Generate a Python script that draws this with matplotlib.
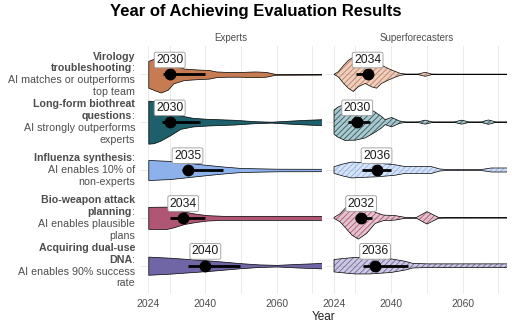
import numpy as np
import matplotlib.pyplot as plt
from matplotlib.colors import to_rgba

plt.rcParams['font.family'] = ['Liberation Sans', 'DejaVu Sans']
plt.rcParams['hatch.linewidth'] = 0.6

title = "Year of Achieving Evaluation Results"
groups = ["Experts", "Superforecasters"]
task_names = ["Virology\ntroubleshooting", "Long-form biothreat\nquestions",
              "Influenza synthesis", "Bio-weapon attack\nplanning",
              "Acquiring dual-use\nDNA"]
task_goals = ["AI matches or outperforms\ntop team", "AI strongly outperforms\nexperts",
              "AI enables 10% of\nnon-experts", "AI enables plausible\nplans",
              "AI enables 90% success\nrate"]
colors = ["#c77b52", "#1d5f6a", "#8db1ea", "#b05573", "#7166a5"]

# violin outlines: year and half width (row units)
exp_years = [
    [2024, 2026, 2027.5, 2029.5, 2031, 2034, 2038, 2041, 2043, 2046, 2050, 2054, 2057, 2059.5, 2073],
    [2024, 2025.5, 2027.3, 2030, 2033, 2036.5, 2040.5, 2048, 2054, 2058.5, 2064, 2068.5, 2073],
    [2024, 2030, 2035, 2040, 2045, 2050, 2060, 2073],
    [2024, 2029, 2031, 2034, 2037.5, 2040.5, 2045, 2073],
    [2024, 2030, 2036, 2042, 2050, 2055, 2060, 2066, 2073],
]
exp_width = [
    [0.28, 0.34, 0.38, 0.32, 0.19, 0.12, 0.10, 0.09, 0.06, 0.05, 0.05, 0.06, 0.05, 0.01, 0.006],
    [0.45, 0.44, 0.39, 0.28, 0.14, 0.09, 0.07, 0.05, 0.02, 0.01, 0.033, 0.05, 0.063],
    [0.21, 0.19, 0.15, 0.11, 0.073, 0.042, 0.027, 0.025],
    [0.23, 0.234, 0.20, 0.13, 0.084, 0.056, 0.042, 0.042],
    [0.19, 0.167, 0.136, 0.104, 0.052, 0.027, 0.017, 0.038, 0.058],
]
sf_years = [
    [2024, 2025.2, 2026.6, 2028, 2029.4, 2030.8, 2032.7, 2034.5, 2035.9, 2037.3, 2039.2,
     2041, 2042.5, 2044, 2047.5, 2049.5, 2051.3, 2053, 2073],
    [2024, 2025, 2027, 2030, 2032.7, 2035.5, 2037.3, 2038.3, 2040.1, 2042.3, 2044, 2047.5,
     2049.5, 2051.5, 2057.7, 2059.7, 2061.7, 2065.2, 2067.2, 2069.2, 2073],
    [2024, 2026.5, 2029, 2031, 2036.5, 2041, 2044, 2047.5, 2051.3, 2053.6, 2056, 2065, 2068, 2073],
    [2024, 2025.7, 2027, 2029, 2030.8, 2033.1, 2035.5, 2037.8, 2041, 2043.9, 2047.1, 2050,
     2053.2, 2055, 2073],
    [2024, 2027, 2030, 2034, 2040, 2044, 2046, 2050, 2073],
]
sf_width = [
    [0, 0.054, 0.18, 0.29, 0.36, 0.26, 0.19, 0.26, 0.29, 0.19, 0.12, 0.063, 0.021, 0.006,
     0.006, 0.042, 0.006, 0.004, 0.004],
    [0.25, 0.31, 0.38, 0.376, 0.33, 0.21, 0.12, 0.052, 0.098, 0.025, 0.006, 0.006, 0.042,
     0.006, 0.006, 0.042, 0.006, 0.006, 0.046, 0.006, 0.006],
    [0.07, 0.125, 0.167, 0.157, 0.14, 0.11, 0.07, 0.07, 0.07, 0.021, 0.008, 0.008, 0.042, 0.042],
    [0.01, 0.084, 0.19, 0.36, 0.445, 0.326, 0.117, 0.058, 0.048, 0.01, 0.01, 0.13, 0.01,
     0.006, 0.006],
    [0.13, 0.153, 0.173, 0.173, 0.142, 0.09, 0.048, 0.038, 0.038],
]

# medians and the thick interval lines
exp_median = [2030, 2030, 2035, 2033.8, 2040]
exp_lo = [2028.2, 2027.8, 2033.5, 2030.1, 2035.2]
exp_hi = [2040, 2038.5, 2045, 2040, 2049.7]
exp_label = [2030, 2030, 2035, 2034, 2040]
sf_median = [2033.4, 2030.5, 2035.9, 2031.6, 2035.5]
sf_lo = [2030.1, 2028, 2031.9, 2030, 2032.2]
sf_hi = [2034.8, 2034, 2040, 2034.5, 2044.8]
sf_label = [2034, 2030, 2036, 2032, 2036]

years = [exp_years, sf_years]
widths = [exp_width, sf_width]
medians = [exp_median, sf_median]
los = [exp_lo, sf_lo]
his = [exp_hi, sf_hi]
labels = [exp_label, sf_label]

grey = "#4d4d4d"
fig = plt.figure(figsize=(5.12, 3.31), dpi=100)
axes = [fig.add_axes([0.2736, 0.1106, 0.3525, 0.7516]),
        fig.add_axes([0.6363, 0.1106, 0.3533, 0.7516])]

for k, ax in enumerate(axes):
    ax.set_xlim(2021.7, 2072.3)
    ax.set_ylim(4.6, -0.6)
    for g in [2024, 2030, 2040, 2050, 2060, 2070]:
        ax.axvline(g, color="#ebebeb", lw=0.7, zorder=0)
    for i in range(5):
        ax.axhline(i, color="#ebebeb", lw=0.7, zorder=0)
        yr = np.array(years[k][i])
        w = np.array(widths[k][i])
        if k == 0:
            ax.fill_between(yr, i - w, i + w, facecolor=colors[i], edgecolor="black",
                            lw=0.5, zorder=2)
        else:
            ax.fill_between(yr, i - w, i + w, facecolor=to_rgba(colors[i], 0.35),
                            edgecolor=colors[i], hatch="//////", lw=0, zorder=2)
            ax.fill_between(yr, i - w, i + w, facecolor="none", edgecolor="black",
                            lw=0.5, zorder=3)
        ax.plot([los[k][i], his[k][i]], [i, i], color="black", lw=2,
                solid_capstyle="butt", zorder=4)
        ax.plot(medians[k][i], i, "o", color="black", ms=7.5, zorder=5)
        ax.annotate(str(labels[k][i]), (medians[k][i], i), xytext=(0, 10.3),
                    textcoords="offset points", ha="center", va="center",
                    fontsize=8.7, color="#1a1a1a", zorder=6,
                    bbox=dict(boxstyle="round,pad=0.15", fc="white", ec="#999999", lw=0.6))
    for s in ax.spines.values():
        s.set_visible(False)
    ax.set_xticks([2024, 2040, 2060])
    ax.set_yticks([])
    ax.tick_params(axis="x", length=0, pad=3, labelsize=7.5, labelcolor=grey)
    ax.set_title(groups[k], fontsize=7, color=grey, pad=3)

# category labels: bold task name with colon, then the goal in normal weight
ax0 = axes[0]
step = 8.5
for i in range(5):
    lines = []
    name_lines = task_names[i].split("\n")
    for j, nl in enumerate(name_lines):
        if j == len(name_lines) - 1:
            lines.append([(nl, "bold"), (":", "normal")])
        else:
            lines.append([(nl, "bold")])
    for gl in task_goals[i].split("\n"):
        lines.append([(gl, "normal")])
    n = len(lines)
    for j, segs in enumerate(lines):
        off = ((n - 1) / 2 - j) * step
        last = ax0.annotate(segs[-1][0], (0, i), xycoords=ax0.get_yaxis_transform(),
                            xytext=(-3.6, off), textcoords="offset points",
                            ha="right", va="center", fontsize=7.7, color=grey,
                            fontweight=segs[-1][1], annotation_clip=False)
        for txt, wt in reversed(segs[:-1]):
            last = ax0.annotate(txt, (0, 0.5), xycoords=last, ha="right", va="center",
                                fontsize=7.7, color=grey, fontweight=wt,
                                annotation_clip=False)

fig.text(0.5, 0.964, title, ha="center", va="center", fontsize=12, fontweight="bold")
fig.text(0.632, 0.043, "Year", ha="center", va="center", fontsize=8.5, color="#222222")

fig.savefig("out.png", dpi=100)
